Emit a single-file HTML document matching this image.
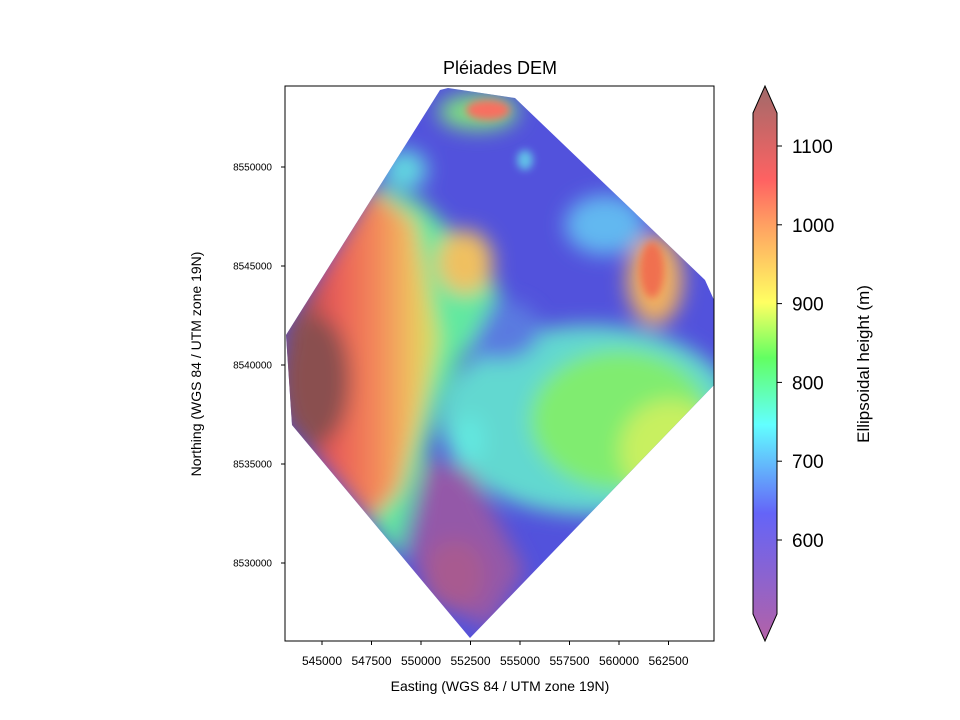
<!DOCTYPE html>
<html><head><meta charset="utf-8"><style>
body{margin:0;background:#fff;}
svg{display:block;font-family:"Liberation Sans","DejaVu Sans",sans-serif;}
</style></head><body>
<svg id="chart" width="960" height="720">
<defs>
<linearGradient id="cb" x1="0" y1="1" x2="0" y2="0">
<stop offset="0" stop-color="#b462a6"/>
<stop offset="0.23" stop-color="#6464f8"/>
<stop offset="0.39" stop-color="#62ffff"/>
<stop offset="0.51" stop-color="#62ff62"/>
<stop offset="0.61" stop-color="#ffff62"/>
<stop offset="0.75" stop-color="#ffa062"/>
<stop offset="0.83" stop-color="#ff6262"/>
<stop offset="1" stop-color="#a06a6a"/>
</linearGradient>
<linearGradient id="left" x1="0" y1="0" x2="1" y2="0">
<stop offset="0" stop-color="#8a5050"/>
<stop offset="0.12" stop-color="#a05050"/>
<stop offset="0.3" stop-color="#e85858"/>
<stop offset="0.6" stop-color="#f48a5a"/>
<stop offset="0.82" stop-color="#f0c060"/>
<stop offset="1" stop-color="#c8e860"/>
</linearGradient>
<clipPath id="dia"><polygon points="448,88 515,98 705,280 714,300 714,385 470,638 292,425 286,335 440,90"/></clipPath>
<filter id="bl" x="-30%" y="-30%" width="160%" height="160%"><feGaussianBlur stdDeviation="10"/></filter>
<filter id="bl2" x="-30%" y="-30%" width="160%" height="160%"><feGaussianBlur stdDeviation="4"/></filter>
</defs>
<text x="500" y="74" text-anchor="middle" font-size="18">Pléiades DEM</text>
<g clip-path="url(#dia)">
<rect x="285" y="86" width="430" height="556" fill="#5252dc"/>
<g filter="url(#bl)">
<ellipse cx="590" cy="420" rx="150" ry="95" fill="#62d8d0"/>
<ellipse cx="500" cy="330" rx="40" ry="30" fill="#5a7ae0"/>
<ellipse cx="620" cy="420" rx="90" ry="70" fill="#80ec70"/>
<ellipse cx="670" cy="450" rx="50" ry="50" fill="#c8f060"/>
<polygon points="375,185 420,200 455,235 500,290 440,400 420,480 400,560 370,520 285,420 285,330" fill="#62e8a0"/>
<polygon points="372,190 415,220 440,340 420,420 400,490 370,520 285,420 285,330" fill="url(#left)"/>
<ellipse cx="315" cy="380" rx="35" ry="65" fill="#8a5050"/>
<polygon points="425,460 470,470 525,570 490,630 430,600 410,555" fill="#9458a8"/>
<ellipse cx="455" cy="575" rx="30" ry="35" fill="#a85a90"/>
<ellipse cx="465" cy="262" rx="28" ry="32" fill="#f0c060"/>
<ellipse cx="405" cy="170" rx="22" ry="20" fill="#62d8e0"/>
<ellipse cx="478" cy="112" rx="40" ry="18" fill="#7ee080"/>
<ellipse cx="605" cy="225" rx="40" ry="30" fill="#62b8f0"/>
<ellipse cx="655" cy="280" rx="28" ry="45" fill="#f0b060"/>
<ellipse cx="470" cy="440" rx="14" ry="25" fill="#62e8e0"/>
</g>
<g filter="url(#bl2)">
<ellipse cx="652" cy="270" rx="12" ry="28" fill="#f07050"/>
<ellipse cx="488" cy="110" rx="22" ry="10" fill="#f87060"/>
<ellipse cx="525" cy="160" rx="8" ry="10" fill="#62c0e8"/>
</g>
</g>
<rect x="285" y="86" width="429" height="555" fill="none" stroke="#000" stroke-width="1"/>
<g id="xaxis"></g>
<g id="yaxis"></g>
<text x="500" y="691" text-anchor="middle" font-size="14">Easting (WGS 84 / UTM zone 19N)</text>
<text transform="translate(201,364) rotate(-90)" text-anchor="middle" font-size="14">Northing (WGS 84 / UTM zone 19N)</text>
<polygon points="753,113 765,86 777,113 777,614 765,641 753,614" fill="url(#cb)" stroke="#000" stroke-width="1"/>
<g id="cbaxis"></g>
<text transform="translate(869,364) rotate(-90)" text-anchor="middle" font-size="17">Ellipsoidal height (m)</text>
</svg>
<script>
const xTicks=[545000,547500,550000,552500,555000,557500,560000,562500];
const yTicks=[8530000,8535000,8540000,8545000,8550000];
const cbTicks=[600,700,800,900,1000,1100];
const NS='http://www.w3.org/2000/svg';
const xs=v=>322+(v-545000)*(49.5/2500);
const ys=v=>563-(v-8530000)*(99/5000);
const cs=v=>540-(v-600)*0.788;
function mk(t,a,p){const e=document.createElementNS(NS,t);for(const k in a)e.setAttribute(k,a[k]);p.appendChild(e);return e;}
const gx=document.getElementById('xaxis'),gy=document.getElementById('yaxis'),gc=document.getElementById('cbaxis');
xTicks.forEach(v=>{const x=xs(v);
const l=mk('line',{x1:x,x2:x,y1:641,y2:645,stroke:'#000'},gx);


const t=mk('text',{x:x,y:665,'text-anchor':'middle','font-size':12},gx);t.textContent=v;

});
yTicks.forEach(v=>{const y=ys(v);
const l=mk('line',{x1:281,x2:285,y1:y,y2:y,stroke:'#000'},gy);


const t=mk('text',{x:272,y:y+3.5,'text-anchor':'end','font-size':10},gy);t.textContent=v;

});
cbTicks.forEach(v=>{const y=cs(v);
const l=mk('line',{x1:777,x2:782,y1:y,y2:y,stroke:'#000'},gc);


const t=mk('text',{x:792,y:y+7,'font-size':19},gc);t.textContent=v;

});
</script>
</body></html>
